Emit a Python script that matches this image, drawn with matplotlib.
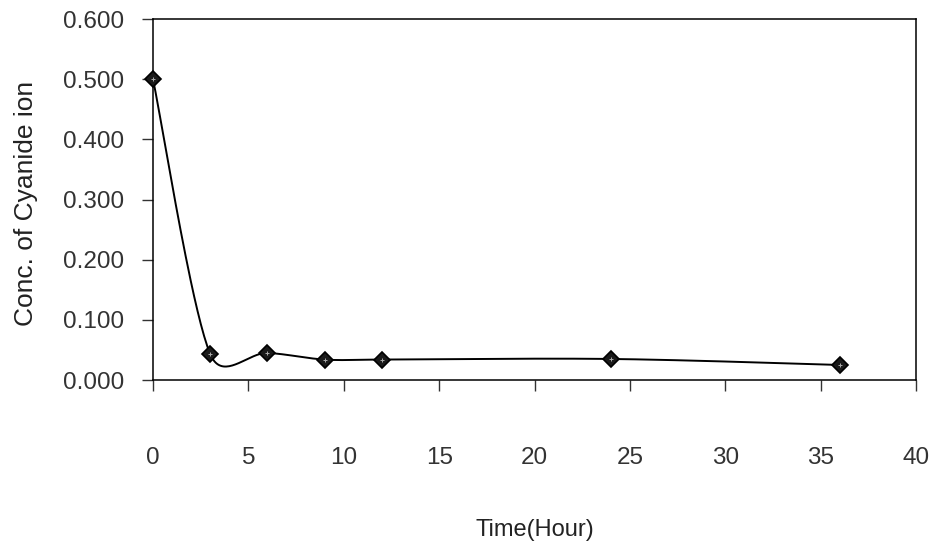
import numpy as np
import matplotlib.pyplot as plt

plt.rcParams['font.family'] = ['Liberation Sans', 'DejaVu Sans']

# data
time_hr = [0, 3, 6, 9, 12, 24, 36]
conc = [0.500, 0.043, 0.045, 0.034, 0.034, 0.035, 0.025]
x_ticks = [0, 5, 10, 15, 20, 25, 30, 35, 40]
y_ticks = [0.0, 0.1, 0.2, 0.3, 0.4, 0.5, 0.6]


def smooth_curve(x, y, sx, sy, n=40, cap=0.55):
    # excel-like smoothed line: bezier segments with catmull-rom tangents,
    # computed in screen-like space; control arms capped by segment length
    p = np.column_stack([np.asarray(x) * sx, np.asarray(y) * sy])
    out = []
    for i in range(len(p) - 1):
        p0 = p[i - 1] if i > 0 else p[i]
        p1, p2 = p[i], p[i + 1]
        p3 = p[i + 2] if i + 2 < len(p) else p[i + 1]
        seg_len = np.hypot(*(p2 - p1))
        a = (p2 - p0) / 6
        b = (p3 - p1) / 6
        for v in (a, b):
            ln = np.hypot(*v)
            if ln > cap * seg_len:
                v *= cap * seg_len / ln
        c1 = p1 + a
        c2 = p2 - b
        t = np.linspace(0, 1, n)[:, None]
        seg = ((1 - t) ** 3) * p1 + 3 * ((1 - t) ** 2) * t * c1 \
            + 3 * (1 - t) * t ** 2 * c2 + t ** 3 * p2
        out.append(seg if i == 0 else seg[1:])
    out = np.vstack(out)
    return out[:, 0] / sx, out[:, 1] / sy


fig = plt.figure(figsize=(9.33, 5.46), dpi=100)
ax = fig.add_axes([0.164, 0.304, 0.818, 0.661])

xs, ys = smooth_curve(time_hr, conc, 763 / 40, 361 / 0.6)
ax.plot(xs, ys, color='black', lw=1.4, zorder=2)
ax.plot(time_hr, conc, ls='none', marker='D', ms=8.5, mfc='#1a1a1a',
        mec='black', mew=1.2, zorder=3, clip_on=False)
ax.plot(time_hr, conc, ls='none', marker='+', ms=3.5, mec='#aaaaaa',
        mew=0.7, zorder=4, clip_on=False)

ax.set_xlim(0, 40)
ax.set_ylim(0, 0.6)
ax.set_xticks(x_ticks)
ax.set_yticks(y_ticks)
ax.set_yticklabels(['%.3f' % v for v in y_ticks])

ax.tick_params(axis='x', direction='out', length=8, width=1, pad=40,
               labelsize=17.5, colors='#333333')
ax.tick_params(axis='y', direction='out', length=8, width=1, pad=13,
               labelsize=17.5, colors='#333333')
for s in ax.spines.values():
    s.set_linewidth(1.1)

ax.set_xlabel('Time(Hour)', fontsize=17, color='#222222')
ax.set_ylabel('Conc. of Cyanide ion', fontsize=19, color='#222222')
ax.xaxis.set_label_coords(0.5, -0.385)
ax.yaxis.set_label_coords(-0.151, 0.49)

fig.savefig('out.png', dpi=100)
